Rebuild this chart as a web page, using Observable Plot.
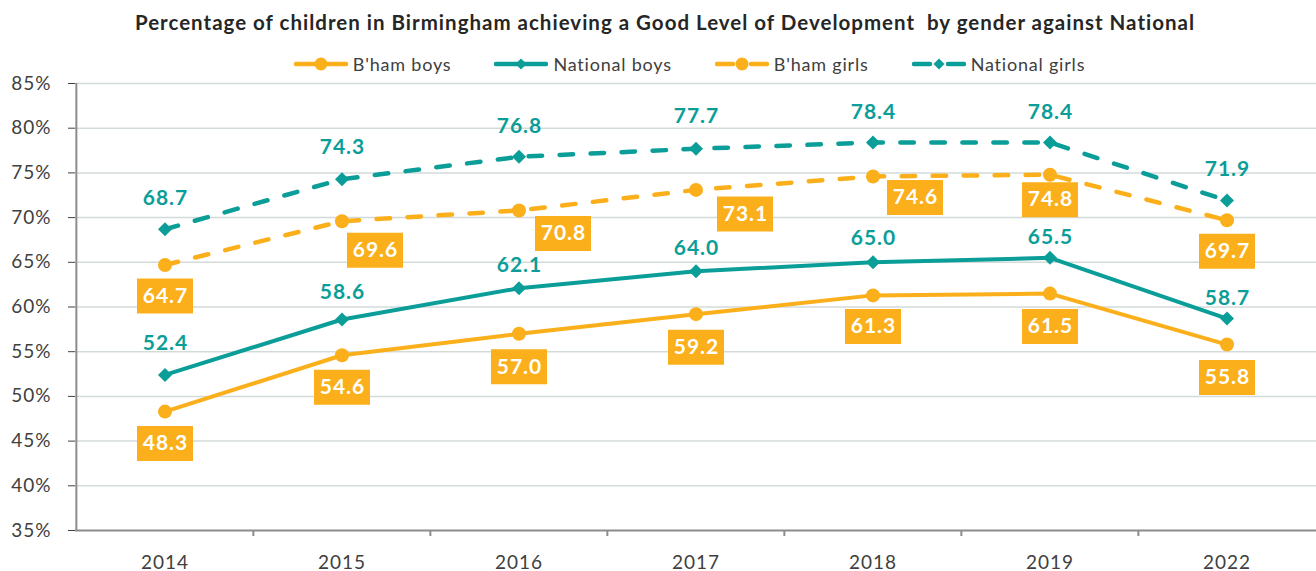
<!DOCTYPE html>
<html>
<head>
<meta charset="utf-8">
<script src="https://cdn.jsdelivr.net/npm/d3@7"></script>
<script src="https://cdn.jsdelivr.net/npm/@observablehq/plot@0.6"></script>
<style>
  html, body { margin: 0; padding: 0; background: #fff; }
  body { width: 1316px; height: 571px; position: relative; overflow: hidden; font-family: Lato, "Open Sans", sans-serif; }
  #title { position: absolute; top: 9px; left: 0; width: 1316px; padding-left: 14px; box-sizing: border-box; text-align: center;
           font-weight: bold; font-size: 20.5px; letter-spacing: 1px; color: #262626; white-space: pre; line-height: 26px; }
  #legend { position: absolute; top: 52px; left: 0; width: 1316px; padding-left: 63px; box-sizing: border-box;
            display: flex; justify-content: center; gap: 43px; font-size: 18px; letter-spacing: 0.8px; color: #404040; line-height: 24px; }
  #legend .item { display: flex; align-items: center; }
  #legend svg { margin-right: 5px; }
  #chart { position: absolute; top: 72px; left: 0; }
  #chart text { letter-spacing: 1px; }
</style>
</head>
<body>
<div id="title"></div>
<div id="legend"></div>
<div id="chart"></div>
<script>
const titleText = "Percentage of children in Birmingham achieving a Good Level of Development  by gender against National";
const years = ["2014", "2015", "2016", "2017", "2018", "2019", "2022"];
const bhamBoys = [48.3, 54.6, 57.0, 59.2, 61.3, 61.5, 55.8];
const nationalBoys = [52.4, 58.6, 62.1, 64.0, 65.0, 65.5, 58.7];
const bhamGirls = [64.7, 69.6, 70.8, 73.1, 74.6, 74.8, 69.7];
const nationalGirls = [68.7, 74.3, 76.8, 77.7, 78.4, 78.4, 71.9];
const yTicks = [35, 40, 45, 50, 55, 60, 65, 70, 75, 80, 85];
const seriesNames = ["B'ham boys", "National boys", "B'ham girls", "National girls"];

const orange = "#FAAF1B";
const teal = "#0B9E98";

// label nudges (pixel styling)
const nudgeNatGirls = [[0,-31],[0,-32],[0,-31],[0,-32],[0,-30],[0,-30],[0,-31]];
const nudgeNatBoys  = [[0,-32],[0,-27],[0,-23],[0,-23],[0,-24],[0,-21],[0,-20]];
const nudgeBhamGirls = [[0,31],[33,29],[44,23],[49,24],[42,21],[0,25],[0,31]];
const nudgeBhamBoys  = [[0,32],[0,32],[0,33],[0,33],[0,31],[0,33],[0,33]];

const rows = vals => years.map((year, i) => ({year, value: vals[i]}));

document.getElementById("title").textContent = titleText;

// legend
const legend = document.getElementById("legend");
const legendDefs = [
  {name: seriesNames[0], color: orange, dash: null, marker: "circle"},
  {name: seriesNames[1], color: teal, dash: null, marker: "diamond"},
  {name: seriesNames[2], color: orange, dash: "dash", marker: "circle"},
  {name: seriesNames[3], color: teal, dash: "dash", marker: "diamond"}
];
for (const d of legendDefs) {
  const item = document.createElement("div");
  item.className = "item";
  const line = d.dash
    ? `<line x1="2" y1="7" x2="18" y2="7" stroke="${d.color}" stroke-width="4.5" stroke-linecap="round"/><line x1="36" y1="7" x2="52" y2="7" stroke="${d.color}" stroke-width="4.5" stroke-linecap="round"/>`
    : `<line x1="2" y1="7" x2="52" y2="7" stroke="${d.color}" stroke-width="4.5" stroke-linecap="round"/>`;
  const marker = d.marker === "circle"
    ? `<circle cx="27" cy="7" r="6.5" fill="${d.color}"/>`
    : `<path d="M27,1.5L32.5,7L27,12.5L21.5,7Z" fill="${d.color}"/>`;
  item.innerHTML = `<svg width="54" height="14">${line}${marker}</svg><span>${d.name}</span>`;
  legend.appendChild(item);
}

const width = 1316, height = 499, marginLeft = 75, marginRight = 0, marginTop = 11, marginBottom = 41;
const bw = (width - marginLeft - marginRight) / years.length;

const diamond = {draw(ctx) { ctx.moveTo(0, -7); ctx.lineTo(7, 0); ctx.lineTo(0, 7); ctx.lineTo(-7, 0); ctx.closePath(); }};
const box = {draw(ctx) { ctx.rect(-28, -17.5, 56, 35); }};

const labelMarks = (vals, nudges, opts) =>
  rows(vals).map((d, i) => Plot.text([d], {x: "year", y: "value", text: r => r.value.toFixed(1), dx: nudges[i][0] + 0.5, dy: nudges[i][1], ...opts}));
const boxMarks = (vals, nudges) =>
  rows(vals).map((d, i) => Plot.dot([d], {x: "year", y: "value", symbol: box, r: 5, fill: orange, stroke: "none", dx: nudges[i][0], dy: nudges[i][1]}));

const chart = Plot.plot({
  width, height, marginLeft, marginRight, marginTop, marginBottom,
  style: {fontFamily: "Lato, 'Open Sans', sans-serif", fontSize: "19px", color: "#404040", background: "transparent", overflow: "visible"},
  x: {type: "band", domain: years, padding: 0, tickSize: 0, tickPadding: 25, label: null},
  y: {domain: [35, 85], ticks: yTicks, tickSize: 7, tickPadding: 17, tickFormat: d => d + "%", label: null},
  marks: [
    Plot.ruleY(yTicks.filter(t => t > 35), {stroke: "#D3DBDA", strokeWidth: 1.5}),
    Plot.ruleX(years.slice(1), {dx: -bw / 2, y1: 35, y2: 35, insetBottom: -6, stroke: "#8C8C8C", strokeWidth: 2}),
    Plot.ruleY([35], {stroke: "#8C8C8C", strokeWidth: 2}),
    Plot.ruleX([years[0]], {dx: -bw / 2, stroke: "#8C8C8C", strokeWidth: 2}),
    Plot.line(rows(bhamBoys), {x: "year", y: "value", stroke: orange, strokeWidth: 4}),
    Plot.line(rows(nationalBoys), {x: "year", y: "value", stroke: teal, strokeWidth: 4}),
    Plot.line(rows(bhamGirls), {x: "year", y: "value", stroke: orange, strokeWidth: 4.5, strokeDasharray: "13.5,17.5", strokeLinecap: "round"}),
    Plot.line(rows(nationalGirls), {x: "year", y: "value", stroke: teal, strokeWidth: 4.5, strokeDasharray: "13.5,17.5", strokeLinecap: "round"}),
    Plot.dot(rows(bhamBoys), {x: "year", y: "value", r: 7, fill: orange, stroke: "none"}),
    Plot.dot(rows(bhamGirls), {x: "year", y: "value", r: 7, fill: orange, stroke: "none"}),
    Plot.dot(rows(nationalBoys), {x: "year", y: "value", symbol: diamond, r: 5, fill: teal, stroke: "none"}),
    Plot.dot(rows(nationalGirls), {x: "year", y: "value", symbol: diamond, r: 5, fill: teal, stroke: "none"}),
    ...labelMarks(nationalGirls, nudgeNatGirls, {fill: teal, fontWeight: "bold", fontSize: 21}),
    ...labelMarks(nationalBoys, nudgeNatBoys, {fill: teal, fontWeight: "bold", fontSize: 21}),
    ...boxMarks(bhamGirls, nudgeBhamGirls),
    ...boxMarks(bhamBoys, nudgeBhamBoys),
    ...labelMarks(bhamGirls, nudgeBhamGirls, {fill: "#fff", fontWeight: "bold", fontSize: 21}),
    ...labelMarks(bhamBoys, nudgeBhamBoys, {fill: "#fff", fontWeight: "bold", fontSize: 21})
  ]
});
document.getElementById("chart").appendChild(chart);
</script>
</body>
</html>
